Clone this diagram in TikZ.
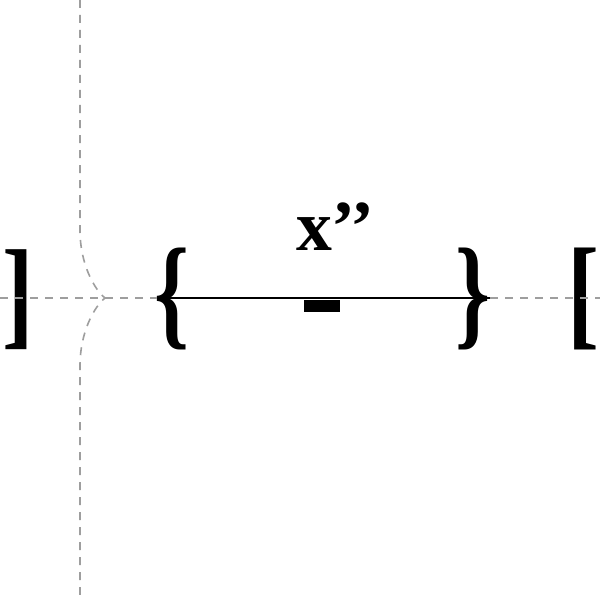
\documentclass[tikz,border=0pt]{standalone}
\usepackage{fontspec}
\setmainfont{Liberation Serif}
\begin{document}
\begin{tikzpicture}[x=1bp,y=-1bp,
  guide/.style={draw=black!38, line width=1.6bp, dash pattern=on 8bp off 7bp},
  glyph/.style={inner sep=0pt, outer sep=0pt, font=\bfseries},
  axis/.style={draw=black, line width=1.2bp}]
\useasboundingbox (0,0) rectangle (600,595);
% guides
\draw[guide] (80,0) -- (80,230) .. controls (80,265) and (95,290) .. (105,298)
  .. controls (95,306) and (80,331) .. (80,366) -- (80,595);
\coordinate (gl) at (0,298);
\coordinate (gr) at (600,298);
% glyphs
\node[glyph] (lbrk) at (18,300) {\resizebox*{!}{100bp}{\fontsize{110}{110}\selectfont\scalebox{0.78}[1]{]}}};
\node[glyph] (lbrace) at (172,299) {\resizebox*{!}{102bp}{\fontsize{112}{112}\selectfont\scalebox{0.72}[1]{\{}}};
\node[glyph] (rbrace) at (473,299) {\resizebox*{!}{102bp}{\fontsize{112}{112}\selectfont\scalebox{0.72}[1]{\}}}};
\node[glyph] (rbrk) at (583,299) {\resizebox*{!}{102bp}{\fontsize{110}{110}\selectfont\scalebox{0.78}[1]{[}}};
\coordinate (ltip) at (157,298);
\coordinate (rtip) at (490,298);
\draw[guide] (gl) -- (ltip);
\draw[guide] (rtip) -- (gr);
\draw[axis] (ltip) -- (rtip);
\node[fill=black, minimum width=36bp, minimum height=12bp, inner sep=0pt] (bar) at (322,306) {};
\node[glyph, anchor=base west] (label) at (296,250) {\fontsize{72}{72}\selectfont x’’};
\end{tikzpicture}
\end{document}
